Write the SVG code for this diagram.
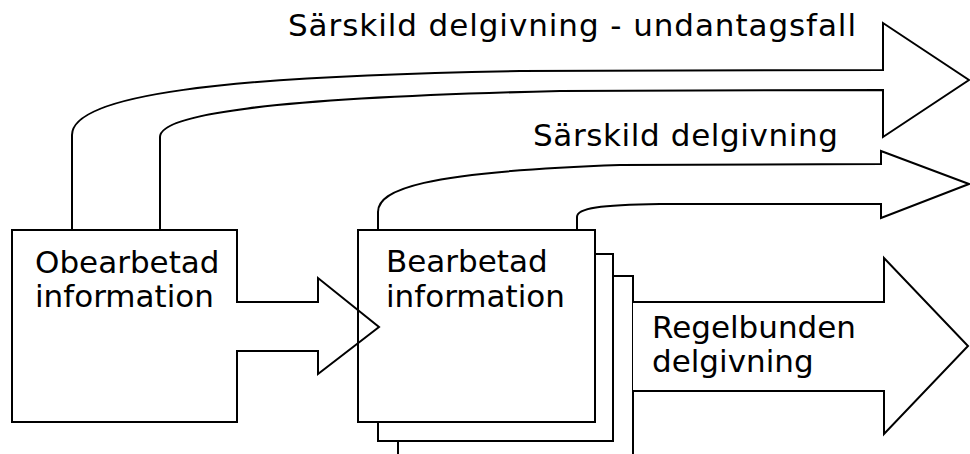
<svg xmlns="http://www.w3.org/2000/svg" width="970" height="454" viewBox="0 0 970 454">
  <style>
    .shape { fill: #fff; stroke: #000; stroke-width: 2; stroke-linejoin: miter; }
    .line { fill: none; stroke: #000; stroke-width: 2; stroke-linejoin: miter; }
    .label { font-family: "DejaVu Sans", Verdana, sans-serif; font-size: 31px; fill: #000; }
  </style>
  <rect width="970" height="454" fill="#fff"/>

  <!-- Processed information: stacked pages, back to front -->
  <g id="bearbetad">
    <rect class="shape" x="398" y="276" width="235" height="200"/>
    <rect class="shape" x="378" y="254" width="235" height="187"/>
    <rect class="shape" x="358" y="230" width="237" height="192"/>
    <text class="label" x="386" y="272">Bearbetad</text>
    <text class="label" x="386" y="307">information</text>
  </g>

  <!-- Raw information box with its outlet arrow as one outline -->
  <g id="obearbetad">
    <path class="line" d="M12,230 H237 V302 H318 V278 L379,327 L318,374 V351 H237 V422 H12 Z"/>
    <text class="label" x="35" y="273">Obearbetad</text>
    <text class="label" x="35" y="307">information</text>
  </g>

  <g id="connectors">
    <!-- special distribution, exception case -->
    <path class="line" d="M72,230 V135 C72,95 220,76 520,71 L883,70 V23 L969,80 L883,137 V90 L560,91 C260,98 160,115 160,137 V230"/>
    <!-- special distribution -->
    <path class="line" d="M378,230 V212 C378,190 420,172 620,165 L881,164 V151 L969,184 L881,218 V204 L660,204 C600,205 577,208 577,217 V230"/>
    <!-- regular distribution -->
    <path class="shape" d="M633,302 H884 V258 L968,346 L884,434 V391 H633"/>
  </g>

  <g id="labels">
    <text class="label" x="288" y="36" textLength="568" lengthAdjust="spacing">Särskild delgivning - undantagsfall</text>
    <text class="label" x="533" y="146" textLength="305" lengthAdjust="spacing">Särskild delgivning</text>
    <text class="label" x="652" y="338">Regelbunden</text>
    <text class="label" x="652" y="372">delgivning</text>
  </g>
</svg>
